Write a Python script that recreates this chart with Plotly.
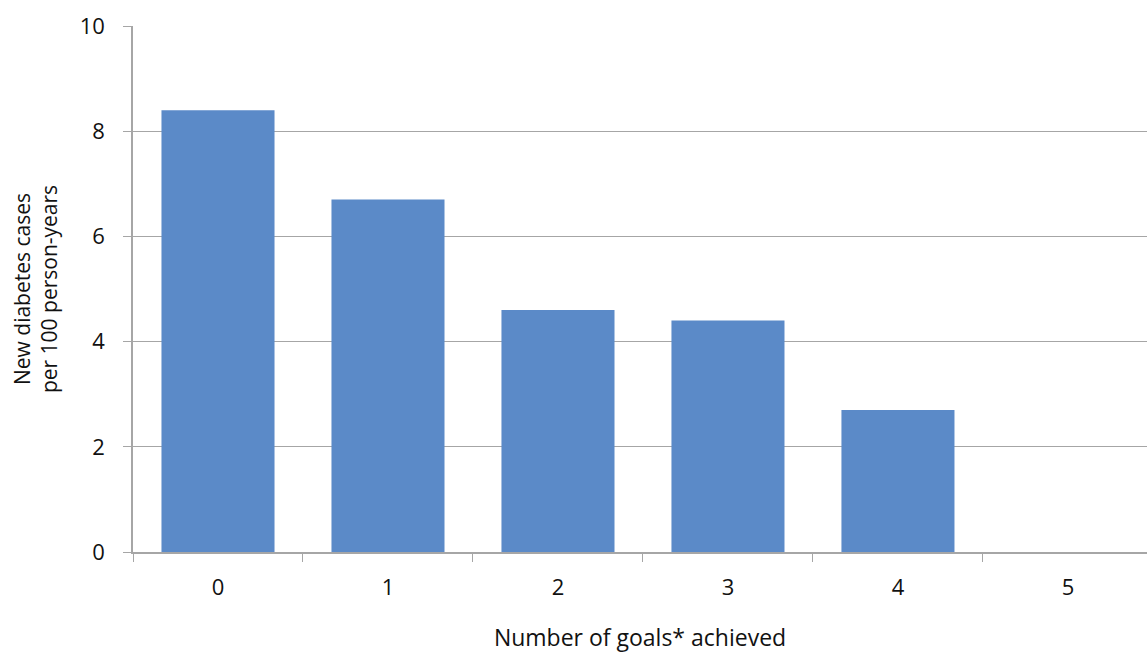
import plotly.graph_objects as go

goals = ["0", "1", "2", "3", "4", "5"]
cases = [8.4, 6.7, 4.6, 4.4, 2.7, 0]
y_ticks = [0, 2, 4, 6, 8, 10]

fig = go.Figure(
    go.Bar(
        x=goals,
        y=cases,
        marker=dict(color="#5B8AC8", line=dict(width=0)),
        hoverinfo="skip",
    )
)

axis_gray = "#A6A6A6"
font_family = "Open Sans, Noto Sans, DejaVu Sans, sans-serif"

fig.update_layout(
    width=1147,
    height=653,
    margin=dict(l=133, r=0, t=26, b=101),
    plot_bgcolor="white",
    paper_bgcolor="white",
    bargap=0.335,
    showlegend=False,
    font=dict(family=font_family, size=22, color="#111111"),
)

# last category band runs slightly past the right edge
fig.update_xaxes(
    type="category",
    range=[-0.5, 5.465],
    tickson="boundaries",
    ticks="outside",
    ticklen=8,
    tickwidth=1,
    tickcolor=axis_gray,
    showline=True,
    linecolor=axis_gray,
    linewidth=1.5,
    showgrid=False,
    tickfont=dict(size=22),
    ticklabelstandoff=15,
    title=dict(text="Number of goals* achieved", font=dict(size=23), standoff=36),
)

fig.update_yaxes(
    range=[0, 10],
    tickvals=y_ticks,
    ticks="outside",
    ticklen=8,
    tickwidth=1,
    tickcolor=axis_gray,
    showline=True,
    linecolor=axis_gray,
    linewidth=1.5,
    showgrid=True,
    gridcolor=axis_gray,
    gridwidth=1,
    zeroline=False,
    tickfont=dict(size=22),
    ticklabelstandoff=14,
    title=dict(text="New diabetes cases<br>per 100 person-years", font=dict(size=21), standoff=16),
)

fig.write_html("out.html")
